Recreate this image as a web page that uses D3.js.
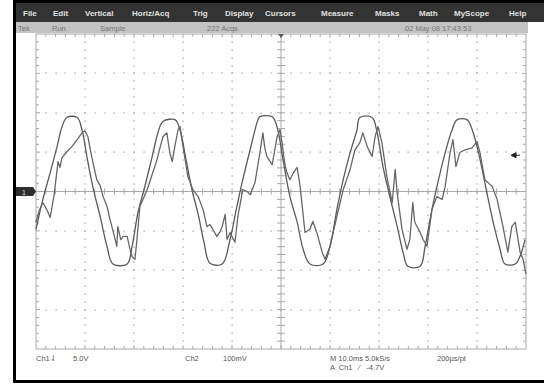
<!DOCTYPE html>
<html>
<head>
<meta charset="utf-8">
<script src="https://cdn.jsdelivr.net/npm/d3@7"></script>
<style>
  body { margin: 0; background: #fff; }
  svg { display: block; font-family: "Liberation Sans", Arial, sans-serif; }
  text { white-space: pre; }
</style>
</head>
<body>
<svg id="scope" width="544" height="385"></svg>
<script>
// menu / status / readout texts
const menuItems = ["File", "Edit", "Vertical", "Horiz/Acq", "Trig", "Display", "Cursors", "Measure", "Masks", "Math", "MyScope", "Help"];
const menuX = [23, 53, 85, 132, 193, 225, 265, 321, 375, 419, 454, 509];
const statusItems = ["Tek", "Run", "Sample", "222 Acqs", "02 May 08 17:43:53"];
const statusX = [18, 52, 100, 207, 405];

// scope settings
const msPerDiv = 10;
const ch1VoltsPerDiv = 5;
const ch2mVPerDiv = 100;
const triggerLevel = 4.6; // marker position, ch1 volts

// ch1 : [time ms, volts]
const ch1Samples = [
  [0.0, -4.8], [1.4, -1.0], [2.9, 2.4], [4.3, 5.7], [5.3, 8.2], [6.3, 9.4], [8.4, 9.4], [9.4, 7.8],
  [10.4, 4.4], [11.6, 0.6], [13.1, -3.2], [14.5, -7.0], [15.7, -9.2], [18.6, -9.2], [19.6, -7.0],
  [20.8, -2.7], [22.2, 0.6], [23.7, 4.4], [24.9, 7.5], [25.9, 8.9], [28.4, 9.1], [29.4, 7.8],
  [30.6, 4.1], [31.8, 0.3], [33.1, -2.9], [34.3, -6.5], [35.5, -9.1], [38.0, -9.2], [39.6, -6.1],
  [41.0, -1.9], [42.2, 1.5], [43.7, 5.3], [45.3, 9.1], [45.7, 9.5], [48.2, 9.5], [49.2, 8.2],
  [50.4, 4.1], [51.8, -0.6], [53.3, -3.9], [54.5, -7.3], [55.9, -9.2], [58.6, -9.2], [60.0, -7.0],
  [61.4, -2.3], [62.7, 1.5], [64.1, 4.9], [65.5, 7.8], [66.1, 9.4], [68.6, 9.4], [69.6, 7.5],
  [70.8, 3.2], [72.2, -0.6], [73.7, -4.4], [74.9, -7.7], [75.9, -9.5], [78.4, -9.5], [79.4, -7.0],
  [80.8, -2.3], [82.0, 1.1], [83.5, 4.9], [84.9, 7.8], [85.9, 9.1], [88.0, 9.1], [89.2, 7.5],
  [90.6, 4.1], [92.0, -0.1], [93.3, -3.9], [94.7, -7.3], [95.7, -9.2], [97.8, -9.2], [98.8, -8.2],
  [99.8, -6.1]
];

// ch2 : [time ms, mV]
const ch2Samples = [
  [0.0, -78], [0.6, -51], [1.4, -28], [2.2, -46], [2.9, -66], [3.7, -8], [4.5, 76], [4.9, 61],
  [5.3, 86], [6.3, 101], [7.3, 114], [8.4, 132], [9.4, 149], [10.0, 154], [10.6, 139], [11.4, 86],
  [12.4, 30], [13.1, 15], [13.7, -13], [14.5, -38], [15.1, -71], [15.9, -109], [16.5, -139],
  [16.7, -89], [17.3, -122], [17.8, -114], [18.6, -114], [19.2, -147], [19.6, -165], [20.2, -172],
  [20.6, -122], [21.2, -38], [22.0, -15], [22.7, 5], [23.7, 43], [24.7, 81], [25.3, 111],
  [25.9, 139], [26.7, 149], [27.3, 99], [27.8, 76], [28.4, 119], [29.0, 157], [29.4, 165],
  [30.0, 114], [31.0, 38], [32.0, 5], [33.1, -13], [34.1, -46], [34.9, -89], [35.5, -84],
  [36.1, -96], [36.9, -114], [37.6, -101], [38.0, -89], [38.6, -58], [39.0, -122], [39.6, -104],
  [40.6, -129], [41.2, -63], [42.2, 5], [43.1, 0], [43.7, -8], [44.7, 23], [45.7, 99], [46.3, 149],
  [46.7, 111], [47.1, 89], [48.2, 68], [49.2, 139], [49.8, 157], [50.2, 124], [50.8, 68],
  [51.2, 48], [51.8, 30], [52.7, 51], [53.3, 61], [53.9, 13], [54.9, -104], [55.9, -96],
  [56.5, -76], [57.3, -104], [58.4, -154], [59.0, -172], [60.0, -139], [61.4, -63], [62.7, 5],
  [64.1, 56], [65.1, 106], [66.1, 124], [66.7, 149], [67.6, 114], [68.6, 89], [69.2, 139],
  [69.8, 165], [70.6, 124], [71.6, 38], [72.7, -28], [73.3, 56], [73.7, -3], [74.7, -96],
  [75.7, -147], [76.3, -122], [76.9, -28], [77.3, -78], [78.4, -104], [79.0, -122], [79.8, -139],
  [80.8, -46], [81.8, -13], [82.9, -20], [83.5, 13], [84.5, 99], [85.1, 132], [85.7, 63],
  [86.5, 99], [87.6, 106], [89.0, 111], [90.0, 127], [90.6, 99], [91.6, 30], [93.1, 13],
  [94.1, -20], [95.3, -89], [96.3, -154], [97.1, -89], [97.8, -78], [98.8, -154], [99.4, -172],
  [100.0, -210]
];

const svg = d3.select("#scope");
const W = 544, H = 385;
const grid = { left: 36, right: 526, top: 34, bottom: 349 };
const xDivs = 10, yDivs = 8;

const x = d3.scaleLinear().domain([0, xDivs * msPerDiv]).range([grid.left, grid.right]);
const y1 = d3.scaleLinear().domain([-yDivs / 2 * ch1VoltsPerDiv, yDivs / 2 * ch1VoltsPerDiv]).range([grid.bottom, grid.top]);
const y2 = d3.scaleLinear().domain([-yDivs / 2 * ch2mVPerDiv, yDivs / 2 * ch2mVPerDiv]).range([grid.bottom, grid.top]);
const yDiv = d3.scaleLinear().domain([0, yDivs]).range([grid.top, grid.bottom]);
const xDiv = d3.scaleLinear().domain([0, xDivs]).range([grid.left, grid.right]);

// screen frame
svg.append("rect").attr("x", 13).attr("y", 0).attr("width", W - 13).attr("height", 3).attr("fill", "#000");
svg.append("rect").attr("x", 13).attr("y", 0).attr("width", 3).attr("height", 383).attr("fill", "#000");
svg.append("rect").attr("x", 13).attr("y", 380).attr("width", W - 13).attr("height", 3).attr("fill", "#000");

// menu bar
svg.append("rect").attr("x", 16).attr("y", 3).attr("width", W - 16).attr("height", 19).attr("fill", "#333");
svg.append("g").selectAll("text").data(menuItems).enter().append("text")
  .attr("x", (d, i) => menuX[i]).attr("y", 16)
  .attr("font-size", 8).attr("fill", "#e0e0e0").attr("font-weight", "bold")
  .text(d => d);

// status bar
svg.append("rect").attr("x", 16).attr("y", 22).attr("width", 512).attr("height", 11).attr("fill", "#c2c2c2");
svg.append("g").selectAll("text").data(statusItems).enter().append("text")
  .attr("x", (d, i) => statusX[i]).attr("y", 30.5)
  .attr("font-size", 7.5).attr("fill", "#777")
  .text(d => d);

// graticule
const g = svg.append("g");
const gridColor = "#a8a8a8";
const dots = [];
d3.range(1, xDivs).filter(k => k !== xDivs / 2).forEach(k => {
  d3.range(1, yDivs * 5).forEach(m => dots.push([xDiv(k), yDiv(m / 5)]));
});
d3.range(1, yDivs).filter(k => k !== yDivs / 2).forEach(k => {
  d3.range(1, xDivs * 5).forEach(m => dots.push([xDiv(m / 5), yDiv(k)]));
});
g.selectAll("rect.dot").data(dots).enter().append("rect")
  .attr("class", "dot")
  .attr("x", d => Math.round(d[0]) - 0.5).attr("y", d => Math.round(d[1]) - 0.5)
  .attr("width", 1.2).attr("height", 1.2).attr("fill", "#999");

// border and centre axes
g.append("rect").attr("x", grid.left).attr("y", grid.top)
  .attr("width", grid.right - grid.left).attr("height", grid.bottom - grid.top)
  .attr("fill", "none").attr("stroke", gridColor).attr("stroke-width", 1);
g.append("line").attr("x1", grid.left).attr("x2", grid.right)
  .attr("y1", yDiv(yDivs / 2)).attr("y2", yDiv(yDivs / 2)).attr("stroke", gridColor);
g.append("line").attr("y1", grid.top).attr("y2", grid.bottom)
  .attr("x1", xDiv(xDivs / 2)).attr("x2", xDiv(xDivs / 2)).attr("stroke", gridColor);

const xTicks = d3.range(1, xDivs * 5);
const yTicks = d3.range(1, yDivs * 5);
const tick = (x1, y1_, x2, y2_) => g.append("line")
  .attr("x1", x1).attr("y1", y1_).attr("x2", x2).attr("y2", y2_)
  .attr("stroke", gridColor).attr("stroke-width", 1);
xTicks.forEach(m => {
  const px = xDiv(m / 5);
  const len = m % 5 === 0 ? 4 : 3;
  tick(px, grid.top, px, grid.top + len);
  tick(px, grid.bottom, px, grid.bottom - len);
  tick(px, yDiv(yDivs / 2) - 3, px, yDiv(yDivs / 2) + 3);
});
yTicks.forEach(m => {
  const py = yDiv(m / 5);
  const len = m % 5 === 0 ? 4 : 3;
  tick(grid.left, py, grid.left + len, py);
  tick(grid.right, py, grid.right - len, py);
  tick(xDiv(xDivs / 2) - 4, py, xDiv(xDivs / 2) + 4, py);
});

// traces
const line1 = d3.line().x(d => x(d[0])).y(d => y1(d[1])).curve(d3.curveCatmullRom.alpha(0.5));
const line2 = d3.line().x(d => x(d[0])).y(d => y2(d[1])).curve(d3.curveLinear);
svg.append("path").datum(ch1Samples).attr("d", line1)
  .attr("fill", "none").attr("stroke", "#5a5a5a").attr("stroke-width", 1.3);
svg.append("path").datum(ch2Samples).attr("d", line2)
  .attr("fill", "none").attr("stroke", "#666").attr("stroke-width", 1.3)
  .attr("stroke-linejoin", "round");

// channel 1 ground marker
const m1 = svg.append("g").attr("transform", `translate(0,${y1(0)})`);
m1.append("rect").attr("x", 16).attr("y", -4.5).attr("width", 17).attr("height", 9).attr("fill", "#2e2e2e");
m1.append("path").attr("d", "M33,-4.5L36,0L33,4.5Z").attr("fill", "#2e2e2e");
m1.append("text").attr("x", 24).attr("y", 3).attr("font-size", 7).attr("fill", "#ddd")
  .attr("text-anchor", "middle").text("1");

// trigger position and level markers
svg.append("path").attr("d", `M${xDiv(xDivs / 2) - 3},${grid.top}L${xDiv(xDivs / 2) + 3},${grid.top}L${xDiv(xDivs / 2)},${grid.top + 4}Z`)
  .attr("fill", "#555");
const ty = y1(triggerLevel);
svg.append("path").attr("d", `M511,${ty}L516,${ty - 2.5}L516,${ty + 2.5}Z M515,${ty}L520,${ty}`)
  .attr("fill", "#222").attr("stroke", "#222").attr("stroke-width", 1);

// readouts
const readout = svg.append("g").attr("font-size", 7.5).attr("fill", "#555");
readout.append("text").attr("x", 36).attr("y", 361).text("Ch1\u21C3");
readout.append("text").attr("x", 73).attr("y", 361).text("5.0V");
readout.append("text").attr("x", 185).attr("y", 361).text("Ch2");
readout.append("text").attr("x", 223).attr("y", 361).text("100mV");
readout.append("text").attr("x", 330).attr("y", 361).text("M 10.0ms 5.0kS/s");
readout.append("text").attr("x", 437).attr("y", 361).text("200\u00B5s/pt");
readout.append("text").attr("x", 330).attr("y", 370).text("A  Ch1   \u2215   -4.7V");
</script>
</body>
</html>
